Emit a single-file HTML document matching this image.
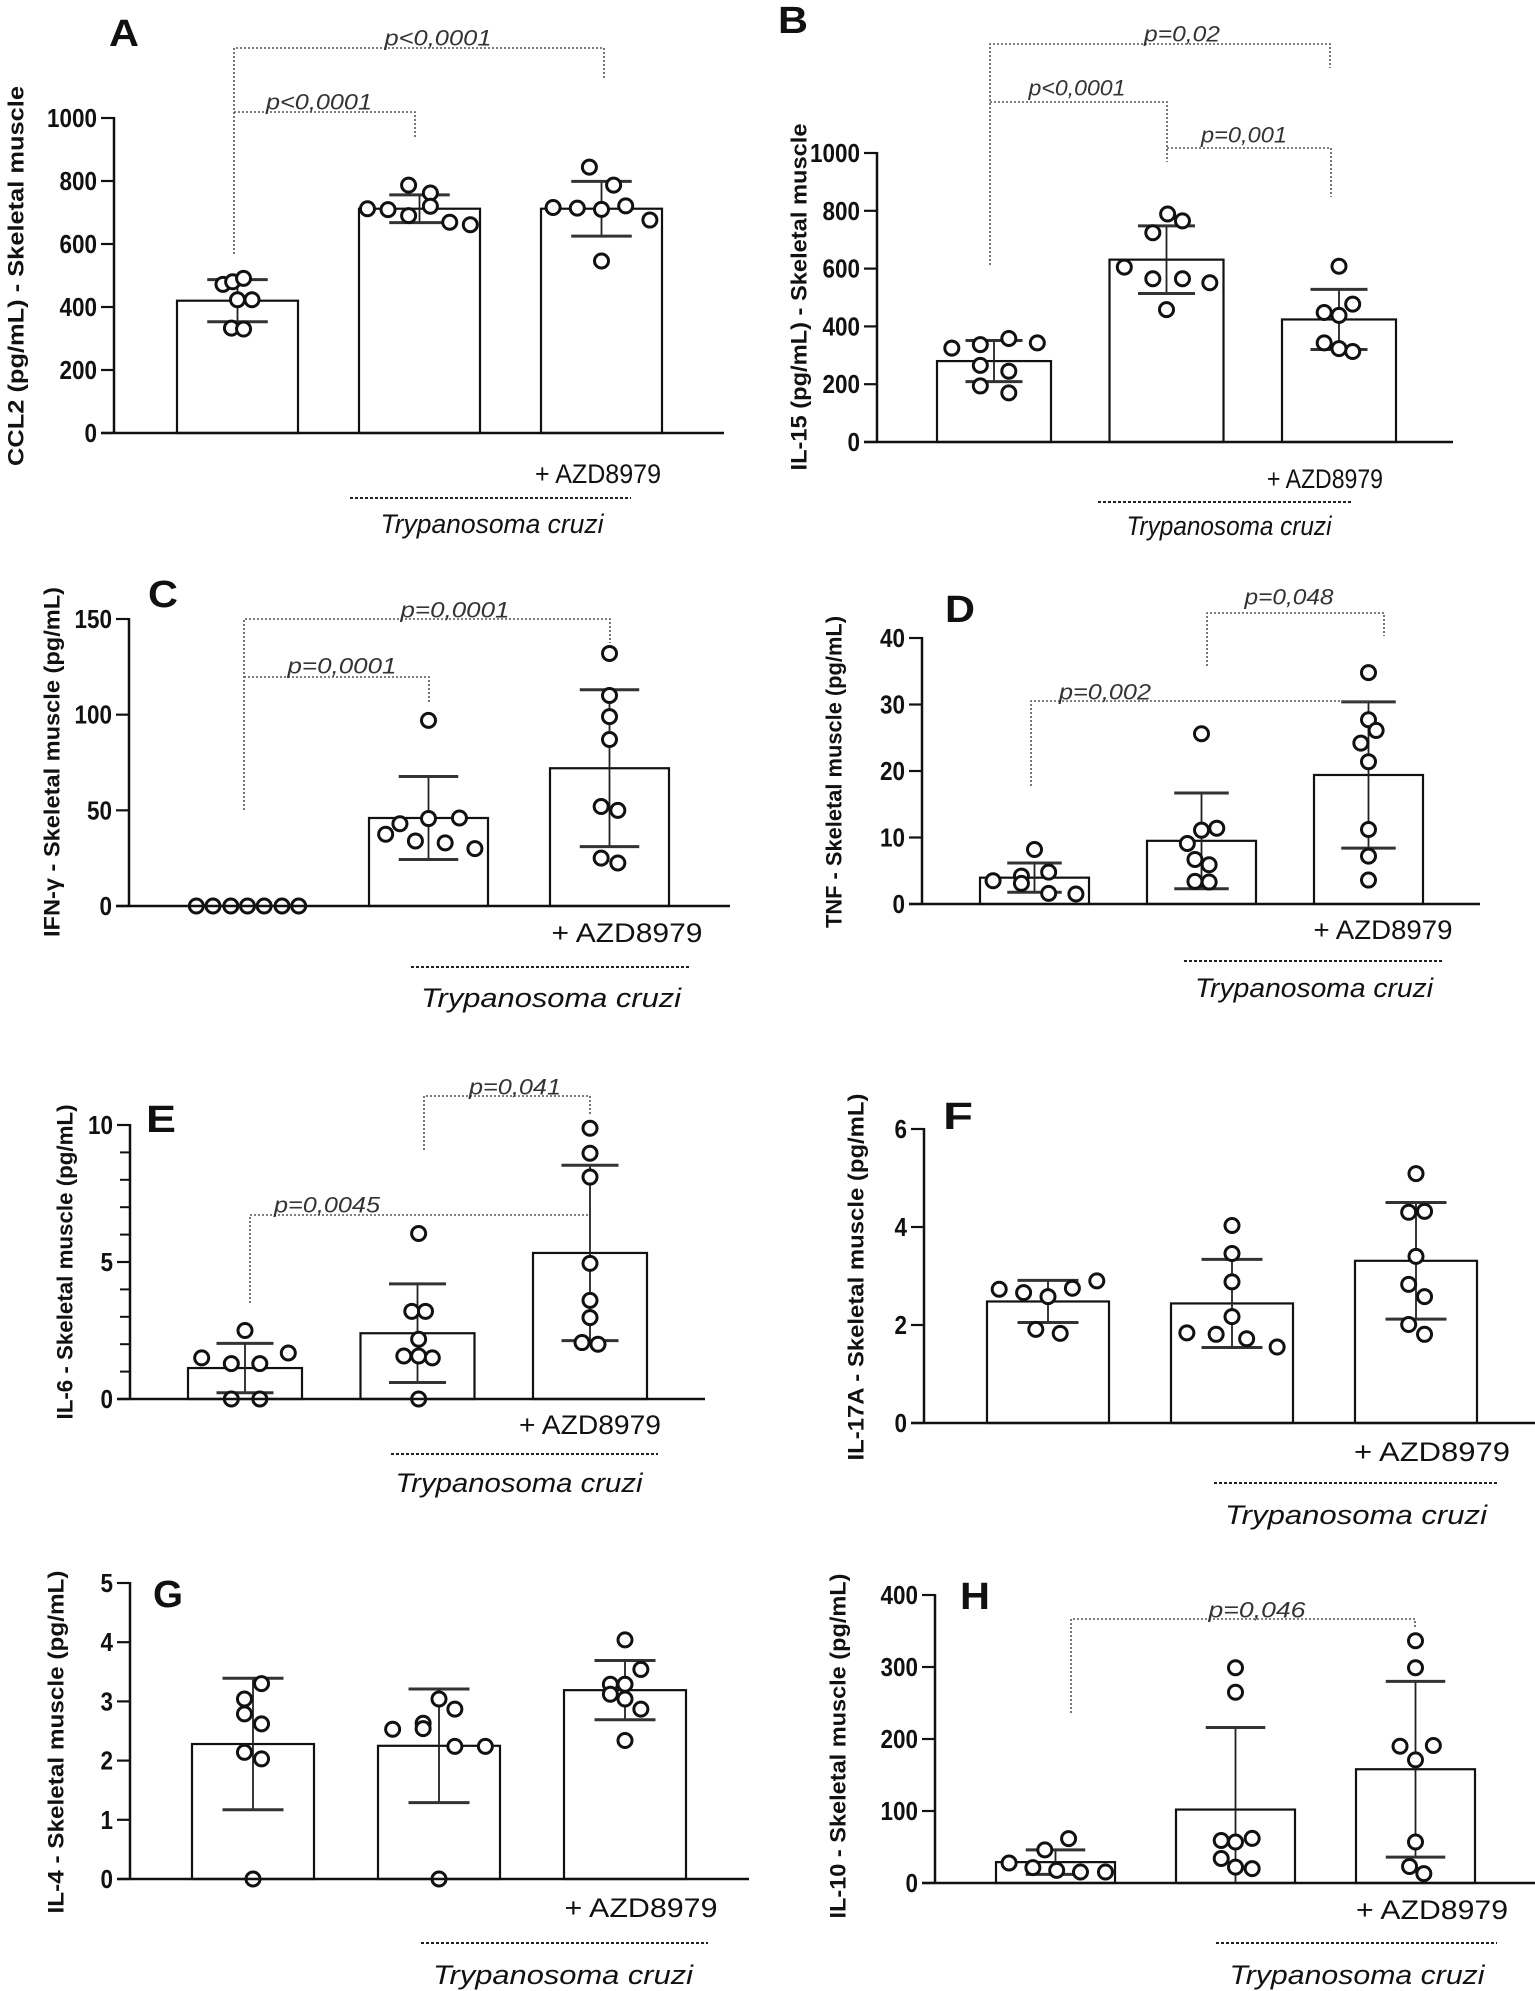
<!DOCTYPE html>
<html><head><meta charset="utf-8"><style>
html,body{margin:0;padding:0;background:#fff;}
svg{display:block;}
text{font-family:"Liberation Sans Narrow","Liberation Sans",sans-serif;}
</style></head><body>
<svg id="fig" xmlns="http://www.w3.org/2000/svg" width="1535" height="1991" viewBox="0 0 1535 1991"></svg>
<script>
// ---- Panel A: CCL2 ----
const aMean=[420,712,712];
const aSd=[67,44,87];
const aPts=[[472,480,491,423,423,333,330],[712,709,690,787,762,720,669,661],[716,714,710,721,676,787,844,546]];
const aJit=[[-0.12,-0.04,0.05,0,0.12,-0.05,0.05],[-0.43,-0.26,-0.09,-0.09,0.09,0.09,0.25,0.42],[-0.4,-0.2,0,0.2,0.4,0.1,-0.1,0]];
const aTicks=[0,200,400,600,800,1000];
// ---- Panel B: IL-15 ----
const bMean=[280,631,424];
const bSd=[71,117,104];
const bPts=[[325,337,358,343,265,245,194,170],[789,765,724,605,565,565,551,458],[608,477,448,438,343,323,313]];
const bJit=[[-0.37,-0.12,0.13,0.38,-0.12,0.13,-0.12,0.13],[0.01,0.14,-0.12,-0.37,-0.12,0.14,0.38,0],[0,0.12,-0.13,0,-0.13,0,0.12]];
const bTicks=[0,200,400,600,800,1000];
// ---- Panel C: IFN-gamma ----
const cMean=[0,46,72];
const cSd=[0,21.7,41];
const cPts=[[0,0,0,0,0,0,0],[97,37.5,43,45.7,46,34,33,30],[132,110,99,87,52,50,25,22.5]];
const cJit=[[-0.43,-0.29,-0.14,0,0.14,0.29,0.43],[0,-0.36,-0.24,0,0.26,-0.11,0.14,0.39],[0,0,0,0,-0.07,0.07,-0.07,0.07]];
const cTicks=[0,50,100,150];
// ---- Panel D: TNF ----
const dMean=[3.96,9.5,19.4];
const dSd=[2.2,7.2,11];
const dPts=[[8.2,3.5,4.2,3.1,4.8,1.6,1.5],[25.6,11.1,11.4,9.1,6.7,5.9,3.4,3.3],[34.8,27.7,26.1,24.2,21.4,11.2,7.2,3.6]];
const dJit=[[0,-0.38,-0.12,-0.12,0.13,0.13,0.38],[0,0,0.14,-0.13,-0.06,0.07,-0.06,0.07],[0,0,0.07,-0.07,0,0,0,0]];
const dTicks=[0,10,20,30,40];
// ---- Panel E: IL-6 ----
const eMean=[1.13,2.4,5.33];
const eSd=[0.9,1.8,3.2];
const ePts=[[2.5,1.5,1.68,1.29,1.29,0,0],[6.04,3.2,3.2,2.18,1.57,1.57,1.5,0],[9.88,8.97,8.1,4.95,3.6,2.97,2.06,2.0]];
const eJit=[[0,-0.38,0.38,-0.12,0.13,-0.12,0.13],[0.01,-0.05,0.07,0.01,-0.12,0.01,0.13,0.01],[0,0,0,0,0,0,-0.07,0.07]];
const eTicks=[0,5,10];
const eMinor=[1,2,3,4,6,7,8,9];
// ---- Panel F: IL-17A ----
const fMean=[2.48,2.44,3.31];
const fSd=[0.43,0.9,1.19];
const fPts=[[2.73,2.66,2.58,2.75,2.9,1.91,1.83],[4.03,3.46,2.88,2.17,1.84,1.81,1.72,1.55],[5.09,4.3,4.32,3.4,2.83,2.58,2.01,1.81]];
const fJit=[[-0.4,-0.2,0,0.2,0.4,-0.1,0.1],[0,0,0,0,-0.37,-0.13,0.12,0.37],[0,-0.06,0.07,0,-0.06,0.07,-0.06,0.07]];
const fTicks=[0,2,4,6];
// ---- Panel G: IL-4 ----
const gMean=[2.28,2.25,3.19];
const gSd=[1.11,0.96,0.5];
const gPts=[[3.3,3.04,2.79,2.62,2.14,2.03,0],[3.04,2.87,2.53,2.63,2.54,2.24,2.24,0],[4.04,3.54,3.29,3.29,3.12,3.04,2.87,2.34]];
const gJit=[[0.07,-0.07,-0.07,0.07,-0.07,0.07,0],[0,0.13,-0.38,-0.13,-0.13,0.13,0.38,0],[0,0.13,-0.12,0,-0.12,0,0.13,0]];
const gTicks=[0,1,2,3,4,5];
// ---- Panel H: IL-10 ----
const hMean=[29,102,158];
const hSd=[17,114,122];
const hPts=[[61.6,46,27.8,21.3,17.6,15.3,15.3],[299,265,59,57,62,34,22,20],[336.5,299,190,191,171,57,23,13]];
const hJit=[[0.11,-0.09,-0.39,-0.19,0.01,0.21,0.42],[0,0,-0.12,0,0.14,-0.12,0,0.14],[0,0,-0.13,0.15,0,0,-0.05,0.07]];
const hTicks=[0,100,200,300,400];

const NS='http://www.w3.org/2000/svg';
const svg=document.getElementById('fig');
function mk(tag,attrs,parent){const e=document.createElementNS(NS,tag);for(const k in attrs)e.setAttribute(k,attrs[k]);(parent||svg).appendChild(e);return e;}
function txt(parent,s,attrs){const t=mk('text',attrs,parent);t.textContent=s;return t;}

const panels=[
 {id:'a',letter:'A',mean:aMean,sd:aSd,pts:aPts,jit:aJit,ticks:aTicks,minor:[],vmax:1000,ax:114,yT:118,yB:433,xEnd:724,b0:177,step:182,bw:121,
  title:'CCL2 (pg/mL) - Skeletal muscle',tx:16,ty:276,tl:380,lx:124,ly:34,
  azd:[598,474,126],tc:[492,524,223],dash:[350,631,498],
  br:[[[234,254],[234,48],[604,48],[604,80]],[[234,112],[415,112],[415,139]]],
  pv:[['p<0,0001',438,38,107],['p<0,0001',319,102,106]]},
 {id:'b',letter:'B',mean:bMean,sd:bSd,pts:bPts,jit:bJit,ticks:bTicks,minor:[],vmax:1000,ax:877,yT:153,yB:442,xEnd:1453,b0:937,step:172.5,bw:114,
  title:'IL-15 (pg/mL) - Skeletal muscle',tx:799,ty:297,tl:347,lx:793,ly:21,
  azd:[1325,479,116],tc:[1229,526,205],dash:[1098,1353,502],
  br:[[[990,265],[990,44],[1330,44],[1330,68]],[[990,102],[1167,102],[1167,162]],[[1167,148],[1331,148],[1331,197]]],
  pv:[['p=0,02',1182,34,76],['p<0,0001',1077,88,97],['p=0,001',1244,135,86]]},
 {id:'c',letter:'C',mean:cMean,sd:cSd,pts:cPts,jit:cJit,ticks:cTicks,minor:[],vmax:150,ax:129,yT:619,yB:906,xEnd:730,b0:188,step:181,bw:119,
  title:'IFN-\u03b3 - Skeletal muscle (pg/mL)',tx:52,ty:762,tl:350,lx:163,ly:595,noBar0:true,
  azd:[627,933,151],tc:[551,998,260],dash:[411,691,967],
  br:[[[244,810],[244,619],[610,619],[610,643]],[[244,677],[429,677],[429,703]]],
  pv:[['p=0,0001',455,610,109],['p=0,0001',342,666,109]]},
 {id:'d',letter:'D',mean:dMean,sd:dSd,pts:dPts,jit:dJit,ticks:dTicks,minor:[],vmax:40,ax:922,yT:638,yB:904,xEnd:1480,b0:980,step:167,bw:109,
  title:'TNF - Skeletal muscle (pg/mL)',tx:834,ty:772,tl:312,lx:960,ly:610,
  azd:[1383,930,139],tc:[1314,988,238],dash:[1184,1443,961],
  br:[[[1031,786],[1031,701],[1368,701]],[[1207,666],[1207,613],[1384,613],[1384,636]]],
  pv:[['p=0,048',1289,597,89],['p=0,002',1105,692,92]]},
 {id:'e',letter:'E',mean:eMean,sd:eSd,pts:ePts,jit:eJit,ticks:eTicks,minor:eMinor,vmax:10,ax:130,yT:1125,yB:1399,xEnd:705,b0:188,step:172.5,bw:114,
  title:'IL-6 - Skeletal muscle (pg/mL)',tx:65,ty:1262,tl:315,lx:161,ly:1120,
  azd:[590,1425,142],tc:[519,1483,247],dash:[391,658,1454],
  br:[[[250,1303],[250,1215],[589,1215]],[[424,1150],[424,1096],[590,1096],[590,1115]]],
  pv:[['p=0,041',515,1087,92],['p=0,0045',327,1205,106]]},
 {id:'f',letter:'F',mean:fMean,sd:fSd,pts:fPts,jit:fJit,ticks:fTicks,minor:[],vmax:6,ax:924,yT:1129,yB:1423,xEnd:1535,b0:987,step:184,bw:122,
  title:'IL-17A - Skeletal muscle (pg/mL)',tx:856,ty:1277,tl:367,lx:958,ly:1117,
  azd:[1432,1452,156],tc:[1356,1515,262],dash:[1214,1497,1483],br:[],pv:[]},
 {id:'g',letter:'G',mean:gMean,sd:gSd,pts:gPts,jit:gJit,ticks:gTicks,minor:[],vmax:5,ax:130,yT:1583,yB:1879,xEnd:749,b0:192,step:186,bw:122,
  title:'IL-4 - Skeletal muscle (pg/mL)',tx:56,ty:1742,tl:343,lx:168,ly:1595,
  azd:[641,1908,153],tc:[563,1975,260],dash:[421,708,1943],br:[],pv:[]},
 {id:'h',letter:'H',mean:hMean,sd:hSd,pts:hPts,jit:hJit,ticks:hTicks,minor:[],vmax:400,ax:935,yT:1595,yB:1883,xEnd:1535,b0:996,step:180,bw:119,
  title:'IL-10 - Skeletal muscle (pg/mL)',tx:838,ty:1746,tl:345,lx:975,ly:1597,
  azd:[1432,1910,152],tc:[1357,1975,255],dash:[1216,1497,1943],
  br:[[[1071,1713],[1071,1619],[1415,1619],[1415,1627]]],
  pv:[['p=0,046',1257,1610,97]]}
];

panels.forEach(P=>{
  const g=mk('g',{});
  
  
  const y=v=>P.yB-(v/P.vmax)*(P.yB-P.yT);
  const bx=i=>P.b0+i*P.step;
  const cx=i=>bx(i)+P.bw/2;
  P.mean.forEach((m,i)=>{
    if(P.noBar0&&i===0)return;
    const r=mk('rect',{x:bx(i),y:y(m),width:P.bw,height:P.yB-y(m),fill:'#fff',stroke:'#111','stroke-width':2.2},g);
    
    
  });
  P.mean.forEach((m,i)=>{
    const s=P.sd[i]; if(!s)return;
    const hi=m+s, lo=Math.max(0,m-s);
    const eg=mk('g',{},g);
    
    
    mk('line',{x1:cx(i),x2:cx(i),y1:y(hi),y2:y(lo),stroke:'#222','stroke-width':1.8},eg);
    const cw=P.bw*0.25;
    mk('line',{x1:cx(i)-cw,x2:cx(i)+cw,y1:y(hi),y2:y(hi),stroke:'#333','stroke-width':3},eg);
    if(m-s>0) mk('line',{x1:cx(i)-cw,x2:cx(i)+cw,y1:y(lo),y2:y(lo),stroke:'#333','stroke-width':3},eg);
  });
  P.pts.forEach((arr,i)=>{
    arr.forEach((v,k)=>{
      const c=mk('circle',{cx:cx(i)+P.jit[i][k]*P.bw,cy:y(v),r:7,fill:'#fff',stroke:'#111','stroke-width':3},g);
      
      
    });
  });
  const ya=mk('line',{x1:P.ax,x2:P.ax,y1:P.yT-1,y2:P.yB,stroke:'#111','stroke-width':2.5},g);
  
  
  const xa=mk('line',{x1:P.ax-13,x2:P.xEnd,y1:P.yB,y2:P.yB,stroke:'#111','stroke-width':2.5},g);
  
  
  P.ticks.forEach(t=>{
    mk('line',{x1:P.ax-13,x2:P.ax,y1:y(t),y2:y(t),stroke:'#111','stroke-width':2.2},g);
    const s=String(t);
    const tl=txt(g,s,{x:P.ax-17,y:y(t),'text-anchor':'end','dominant-baseline':'central','font-size':26,'font-weight':'bold',fill:'#111',textLength:s.length*12.5,lengthAdjust:'spacingAndGlyphs'});
    
    
  });
  P.minor.forEach(t=>{mk('line',{x1:P.ax-10,x2:P.ax,y1:y(t),y2:y(t),stroke:'#111','stroke-width':2},g);});
  const yt=txt(g,P.title,{x:P.tx,y:P.ty,transform:'rotate(-90 '+P.tx+' '+P.ty+')','text-anchor':'middle','dominant-baseline':'central','font-size':22,'font-weight':'bold',fill:'#111',textLength:P.tl,lengthAdjust:'spacingAndGlyphs',style:'font-family:"Liberation Sans",sans-serif'});
  
  
  const lt=txt(g,P.letter,{x:P.lx,y:P.ly,'text-anchor':'middle','dominant-baseline':'central','font-size':38,'font-weight':'bold',fill:'#111',textLength:30,lengthAdjust:'spacingAndGlyphs'});
  
  
  P.br.forEach(b=>{
    const pl=mk('polyline',{points:b.map(p=>p.join(',')).join(' '),fill:'none',stroke:'#555','stroke-width':1.6,'stroke-dasharray':'2,2'},g);
    
    
  });
  P.pv.forEach(p=>{
    const t=txt(g,p[0],{x:p[1],y:p[2],'text-anchor':'middle','dominant-baseline':'central','font-size':22,'font-style':'italic',fill:'#333',textLength:p[3],lengthAdjust:'spacingAndGlyphs'});
    
    
  });
  const az=txt(g,'+ AZD8979',{x:P.azd[0],y:P.azd[1],'text-anchor':'middle','dominant-baseline':'central','font-size':27,fill:'#111',textLength:P.azd[2],lengthAdjust:'spacingAndGlyphs'});
  
  
  const dl=mk('line',{x1:P.dash[0],x2:P.dash[1],y1:P.dash[2],y2:P.dash[2],stroke:'#222','stroke-width':2,'stroke-dasharray':'3,2'},g);
  
  
  const tc=txt(g,'Trypanosoma cruzi',{x:P.tc[0],y:P.tc[1],'text-anchor':'middle','dominant-baseline':'central','font-size':27,'font-style':'italic',fill:'#111',textLength:P.tc[2],lengthAdjust:'spacingAndGlyphs'});
  
  
});
</script>
</body></html>
